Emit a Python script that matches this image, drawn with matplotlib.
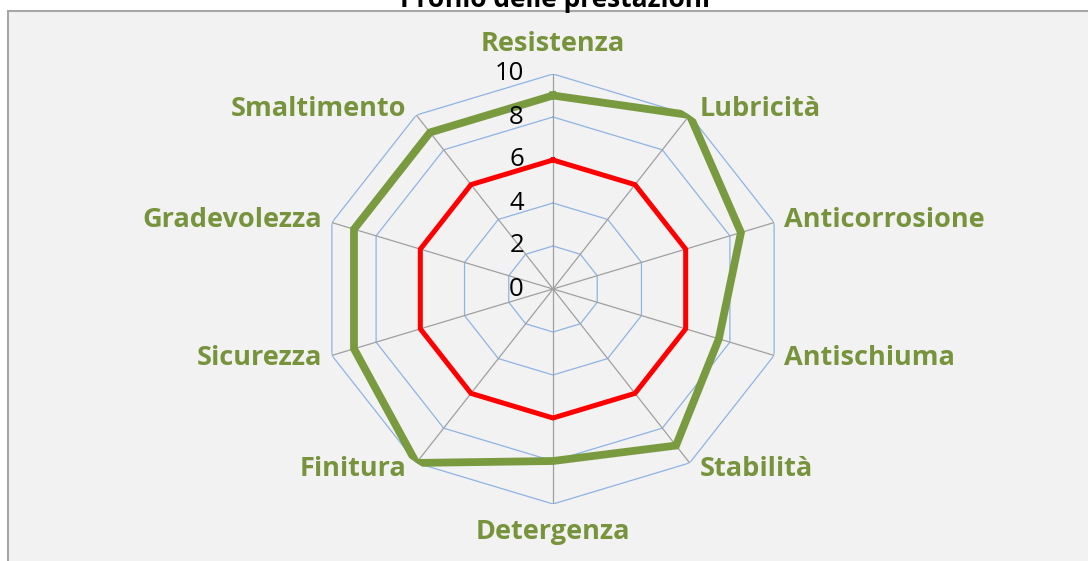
import matplotlib

matplotlib.use("Agg")
import matplotlib.pyplot as plt
import numpy as np
from matplotlib.patches import Rectangle

# ── Data ────────────────────────────────────────────────────────────────
categories = [
    "Resistenza", "Lubricità", "Anticorrosione", "Antischiuma", "Stabilità",
    "Detergenza", "Finitura", "Sicurezza", "Gradevolezza", "Smaltimento",
]
green_values = [9, 10, 8.5, 7.5, 9, 8, 10, 9, 9, 9]
red_values = [6, 6, 6, 6, 6, 6, 6, 6, 6, 6]
ring_levels = [0, 2, 4, 6, 8, 10]
title = "Profilo delle prestazioni"

GREEN = "#77933C"
LINE_GREEN = "#7A9A40"
RED = "#FF0000"
BLUE = "#8EB4E3"
GRAY = "#A0A0A0"
FONT = "Open Sans"

W, H, DPI = 1088, 561, 100
fig = plt.figure(figsize=(W / DPI, H / DPI), dpi=DPI, facecolor="white")

# chart area box (cropped at right and bottom)
fig.patches.append(
    Rectangle((7.5 / W, -0.05), 1.2, 1 - 11 / H + 0.05, transform=fig.transFigure,
              facecolor="#F2F2F2", edgecolor="#A6A6A6", linewidth=1.5, zorder=-5)
)
fig.text(555 / W, 1 - 7 / H, title, ha="center", va="baseline",
         fontsize=19, fontweight="bold", family=FONT, color="black")

# polar area, stretched like the reference (wider than tall)
cx, cy, rx, ry = 553, 289, 232.5, 215
ax = fig.add_axes([(cx - rx) / W, (H - cy - ry) / H, 2 * rx / W, 2 * ry / H],
                  projection="polar")
ax.set_aspect("auto")
ax.patch.set_visible(False)
ax.spines["polar"].set_visible(False)
ax.set_theta_zero_location("N")
ax.set_theta_direction(-1)
ax.set_ylim(0, 10)
ax.grid(False)
ax.set_xticks([])
ax.set_yticks([])

n = len(categories)
theta = np.linspace(0, 2 * np.pi, n, endpoint=False)
theta_closed = np.append(theta, theta[0])

# polygon rings and spokes
for lvl in ring_levels[1:]:
    ax.plot(theta_closed, [lvl] * (n + 1), color=BLUE, linewidth=0.9, zorder=1)
for t in theta:
    ax.plot([t, t], [0, ring_levels[-1]], color=GRAY, linewidth=0.9, zorder=1)

ax.plot(theta_closed, np.append(red_values, red_values[0]), color=RED,
        linewidth=3.6, solid_joinstyle="miter", zorder=3)
ax.plot(theta_closed, np.append(green_values, green_values[0]), color=LINE_GREEN,
        linewidth=5.6, solid_joinstyle="miter", zorder=4)

# value labels on the first spoke
for lvl in ring_levels:
    ax.annotate(str(lvl), xy=(0, lvl), xytext=(-29, 0), textcoords="offset pixels",
                ha="right", va="center", fontsize=18.5, family=FONT, color="black",
                zorder=5)

# category labels
for t, name in zip(theta, categories):
    s, c = np.sin(t), np.cos(t)
    if abs(s) < 1e-6:
        off = (0, 30 if c > 0 else -28)
        ha = "center"
    else:
        off = (10 if s > 0 else -10, 7 * c)
        ha = "left" if s > 0 else "right"
    ax.annotate(name, xy=(t, 10), xytext=off, textcoords="offset pixels",
                ha=ha, va="center", fontsize=19.5, fontweight="bold", family=FONT,
                color=GREEN, zorder=5)

fig.savefig("out.png", dpi=DPI)
